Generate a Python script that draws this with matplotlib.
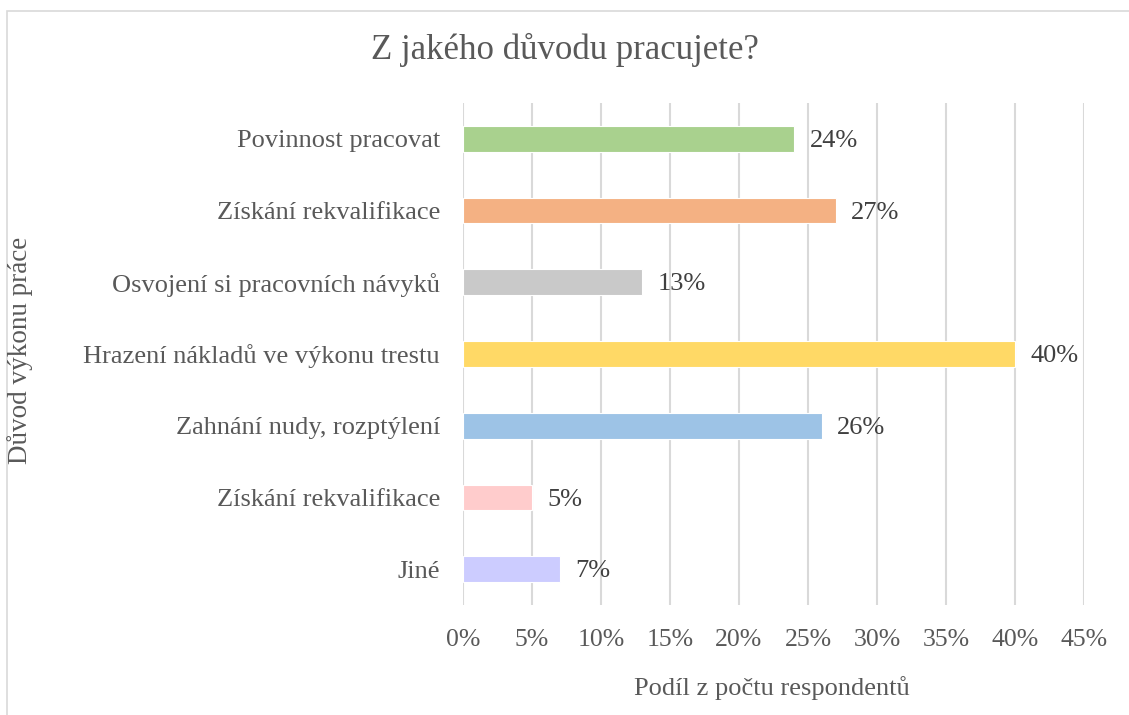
import matplotlib
matplotlib.use("Agg")
import matplotlib.pyplot as plt
from matplotlib.patches import Rectangle
from matplotlib.ticker import PercentFormatter

categories = ["Povinnost pracovat", "Získání rekvalifikace", "Osvojení si pracovních návyků",
              "Hrazení nákladů ve výkonu trestu", "Zahnání nudy, rozptýlení",
              "Získání rekvalifikace", "Jiné"]
values = [0.24, 0.27, 0.13, 0.40, 0.26, 0.05, 0.07]
colors = ["#A9D18E", "#F4B183", "#C9C9C9", "#FFD966", "#9DC3E6", "#FFCCCC", "#CCCCFF"]
xticks = [0, 0.05, 0.10, 0.15, 0.20, 0.25, 0.30, 0.35, 0.40, 0.45]

plt.rcParams['font.family'] = ['Liberation Serif', 'DejaVu Serif']

W, H = 1129, 715
fig = plt.figure(figsize=(W / 100, H / 100), dpi=100)
fig.patches.append(Rectangle((6.5 / W, -0.1), 2, 1 - 11 / H + 0.1, transform=fig.transFigure,
                             fill=False, edgecolor="#D9D9D9", linewidth=1.2))

left, right, top, bottom = 463, 1084, 103, 605
ax = fig.add_axes([left / W, 1 - bottom / H, (right - left) / W, (bottom - top) / H])

ypos = list(range(len(categories)))
ax.barh(ypos, values, height=0.36, color=colors, edgecolor="white", linewidth=0.8, zorder=3)
ax.set_ylim(len(categories) - 0.5, -0.5)
ax.set_xlim(0, 0.45)
ax.set_yticks(ypos)
ax.set_yticklabels(categories, fontsize=19, color="#595959")
ax.set_xticks(xticks)
ax.xaxis.set_major_formatter(PercentFormatter(1.0, decimals=0))
ax.tick_params(axis='x', labelsize=18.5, labelcolor="#595959", length=0, pad=17)
ax.tick_params(axis='y', length=0, pad=16.5)
ax.grid(axis='x', color="#D9D9D9", linewidth=1.5, zorder=0)
for s in ax.spines.values():
    s.set_visible(False)

for y, v in zip(ypos, values):
    ax.text(v + 0.011, y + 0.03, f"{round(v * 100)}%", va="center", ha="left", fontsize=19,
            color="#404040")

fig.text(565 / W, 1 - 50 / H, "Z jakého důvodu pracujete?", ha="center", va="center",
         fontsize=25, color="#595959")
fig.text(772 / W, 1 - 688 / H, "Podíl z počtu respondentů", ha="center", va="center",
         fontsize=19, color="#595959")
fig.text(20 / W, 1 - 350 / H, "Důvod výkonu práce", ha="center", va="center", rotation=90,
         fontsize=19.5, color="#595959")

fig.savefig("out.png", dpi=100)
